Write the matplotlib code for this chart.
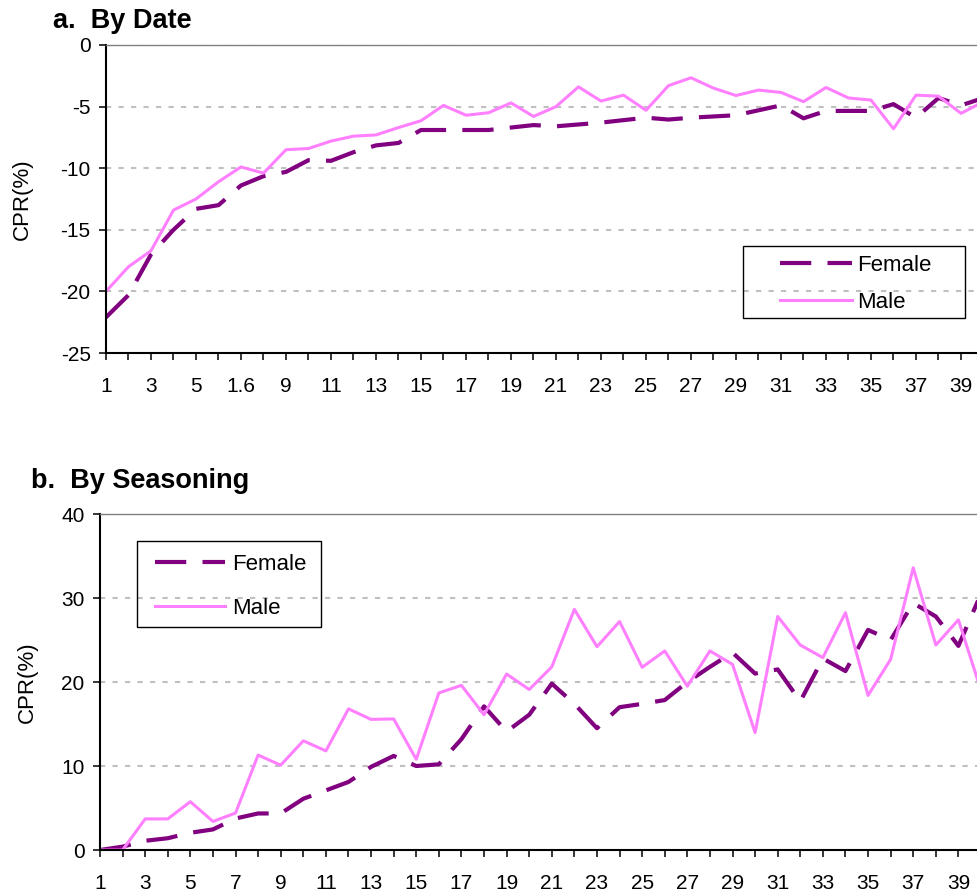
import matplotlib
matplotlib.use("Agg")
import matplotlib.pyplot as plt
from matplotlib.patches import Rectangle

plt.rcParams["font.family"] = ["Liberation Sans", "DejaVu Sans"]
plt.rcParams["axes.unicode_minus"] = False

# ---- data ----
x = list(range(1, 41))

date_female = [-22.1, -20.3, -17.0, -15.0, -13.3, -13.0, -11.4, -10.65, -10.3, -9.35,
               -9.4, -8.7, -8.15, -7.95, -6.9, -6.9, -6.9, -6.9, -6.7, -6.5,
               -6.6, -6.45, -6.3, -6.1, -5.9, -6.05, -5.9, -5.8, -5.7, -5.3,
               -4.9, -5.95, -5.35, -5.35, -5.35, -4.8, -5.9, -4.3, -4.9, -4.3]
date_male = [-20.0, -18.0, -16.7, -13.4, -12.5, -11.1, -9.9, -10.4, -8.5, -8.4,
             -7.8, -7.4, -7.3, -6.7, -6.15, -4.9, -5.7, -5.5, -4.7, -5.8,
             -5.0, -3.4, -4.55, -4.07, -5.3, -3.3, -2.66, -3.5, -4.1, -3.66,
             -3.85, -4.6, -3.45, -4.3, -4.47, -6.8, -4.07, -4.15, -5.55, -4.6]

season_female = [0.0, 0.4, 1.1, 1.4, 2.05, 2.45, 3.75, 4.35, 4.35, 6.1,
                 7.1, 8.1, 9.9, 11.2, 10.0, 10.2, 13.2, 17.1, 14.1, 16.1,
                 19.8, 17.4, 14.5, 17.0, 17.4, 17.85, 20.0, 21.8, 23.5, 21.0,
                 21.5, 17.7, 22.8, 21.3, 26.2, 25.0, 29.4, 27.8, 24.3, 30.5]
season_male = [0.0, 0.0, 3.7, 3.7, 5.75, 3.4, 4.4, 11.3, 10.1, 13.0,
               11.8, 16.8, 15.55, 15.6, 10.8, 18.7, 19.6, 16.1, 20.95, 19.1,
               21.8, 28.65, 24.2, 27.2, 21.75, 23.7, 19.5, 23.7, 22.1, 13.97,
               27.8, 24.4, 22.9, 28.25, 18.4, 22.7, 33.6, 24.4, 27.4, 19.0]

date_labels = ["1", "3", "5", "1.6", "9", "11", "13", "15", "17", "19",
               "21", "23", "25", "27", "29", "31", "33", "35", "37", "39"]
season_labels = [str(v) for v in range(1, 40, 2)]

FEMALE = "#800080"
MALE = "#ff80ff"
W, H = 978, 896


def fx(px):
    return px / W


def fy(py):
    return 1 - py / H


def style_axes(ax, ylim, yticks, labels):
    ax.set_xlim(1, 40)
    ax.set_ylim(*ylim)
    ax.set_yticks(yticks)
    ax.set_xticks(x)
    full = []
    for i in x:
        full.append(labels[(i - 1) // 2] if i % 2 == 1 else "")
    ax.set_xticklabels(full)
    for yv in yticks[1:]:
        ax.axhline(yv, color="#c0c0c0", lw=1.5, ls=(0, (2.5, 3.5)), zorder=0)
    ax.spines["right"].set_visible(False)
    ax.spines["top"].set_color("#808080")
    ax.spines["top"].set_linewidth(1.0)
    for s in ("left", "bottom"):
        ax.spines[s].set_linewidth(1.5)
    ax.tick_params(axis="both", direction="out", length=5, width=1.1,
                   labelsize=15, colors="black")
    ax.tick_params(axis="x", pad=12.5)
    ax.tick_params(axis="y", pad=6)


def add_legend(ax, box, hx, ty, spacing, hlen, tpad):
    x0, y0, x1, y1 = box
    fig.add_artist(Rectangle((fx(x0), fy(y1)), fx(x1) - fx(x0), (y1 - y0) / H,
                             transform=fig.transFigure, fill=False,
                             edgecolor="black", lw=1.0, zorder=5))
    ax.legend(loc="upper left", bbox_to_anchor=(fx(hx), fy(ty)),
              bbox_transform=fig.transFigure, fontsize=16, frameon=False,
              handlelength=hlen, handletextpad=tpad, labelspacing=spacing,
              borderpad=0, borderaxespad=0)


fig = plt.figure(figsize=(W / 100, H / 100), dpi=100)

# panel a
ax1 = fig.add_axes([fx(106), fy(353), (983.5 - 106) / W, (353 - 45) / H])
ax1.plot(x, date_female, color=FEMALE, lw=3.0, ls=(0, (7.5, 3.9)), label="Female")
ax1.plot(x, date_male, color=MALE, lw=2.2, label="Male")
style_axes(ax1, (-25, 0), [-25, -20, -15, -10, -5, 0], date_labels)
add_legend(ax1, (743, 246, 965, 318), 780, 255, 0.73, 3.24, 0.23)

# panel b
ax2 = fig.add_axes([fx(100), fy(850), (981 - 100) / W, (850 - 514) / H])
ax2.plot(x, season_female, color=FEMALE, lw=3.0, ls=(0, (7.5, 3.9)), label="Female")
ax2.plot(x, season_male, color=MALE, lw=2.2, label="Male")
style_axes(ax2, (0, 40), [0, 10, 20, 30, 40], season_labels)
add_legend(ax2, (137, 541, 321, 627), 155, 554, 1.04, 3.15, 0.3)

fig.text(fx(53), fy(28), "a.  By Date", fontsize=19.5, fontweight="bold",
         va="baseline", ha="left")
fig.text(fx(31), fy(488), "b.  By Seasoning", fontsize=19.5, fontweight="bold",
         va="baseline", ha="left")
fig.text(fx(22.5), fy(199), "CPR(%)", fontsize=16, rotation=90,
         va="center", ha="center")
fig.text(fx(27), fy(682.5), "CPR(%)", fontsize=16, rotation=90,
         va="center", ha="center")

fig.savefig("out.png", dpi=100)
